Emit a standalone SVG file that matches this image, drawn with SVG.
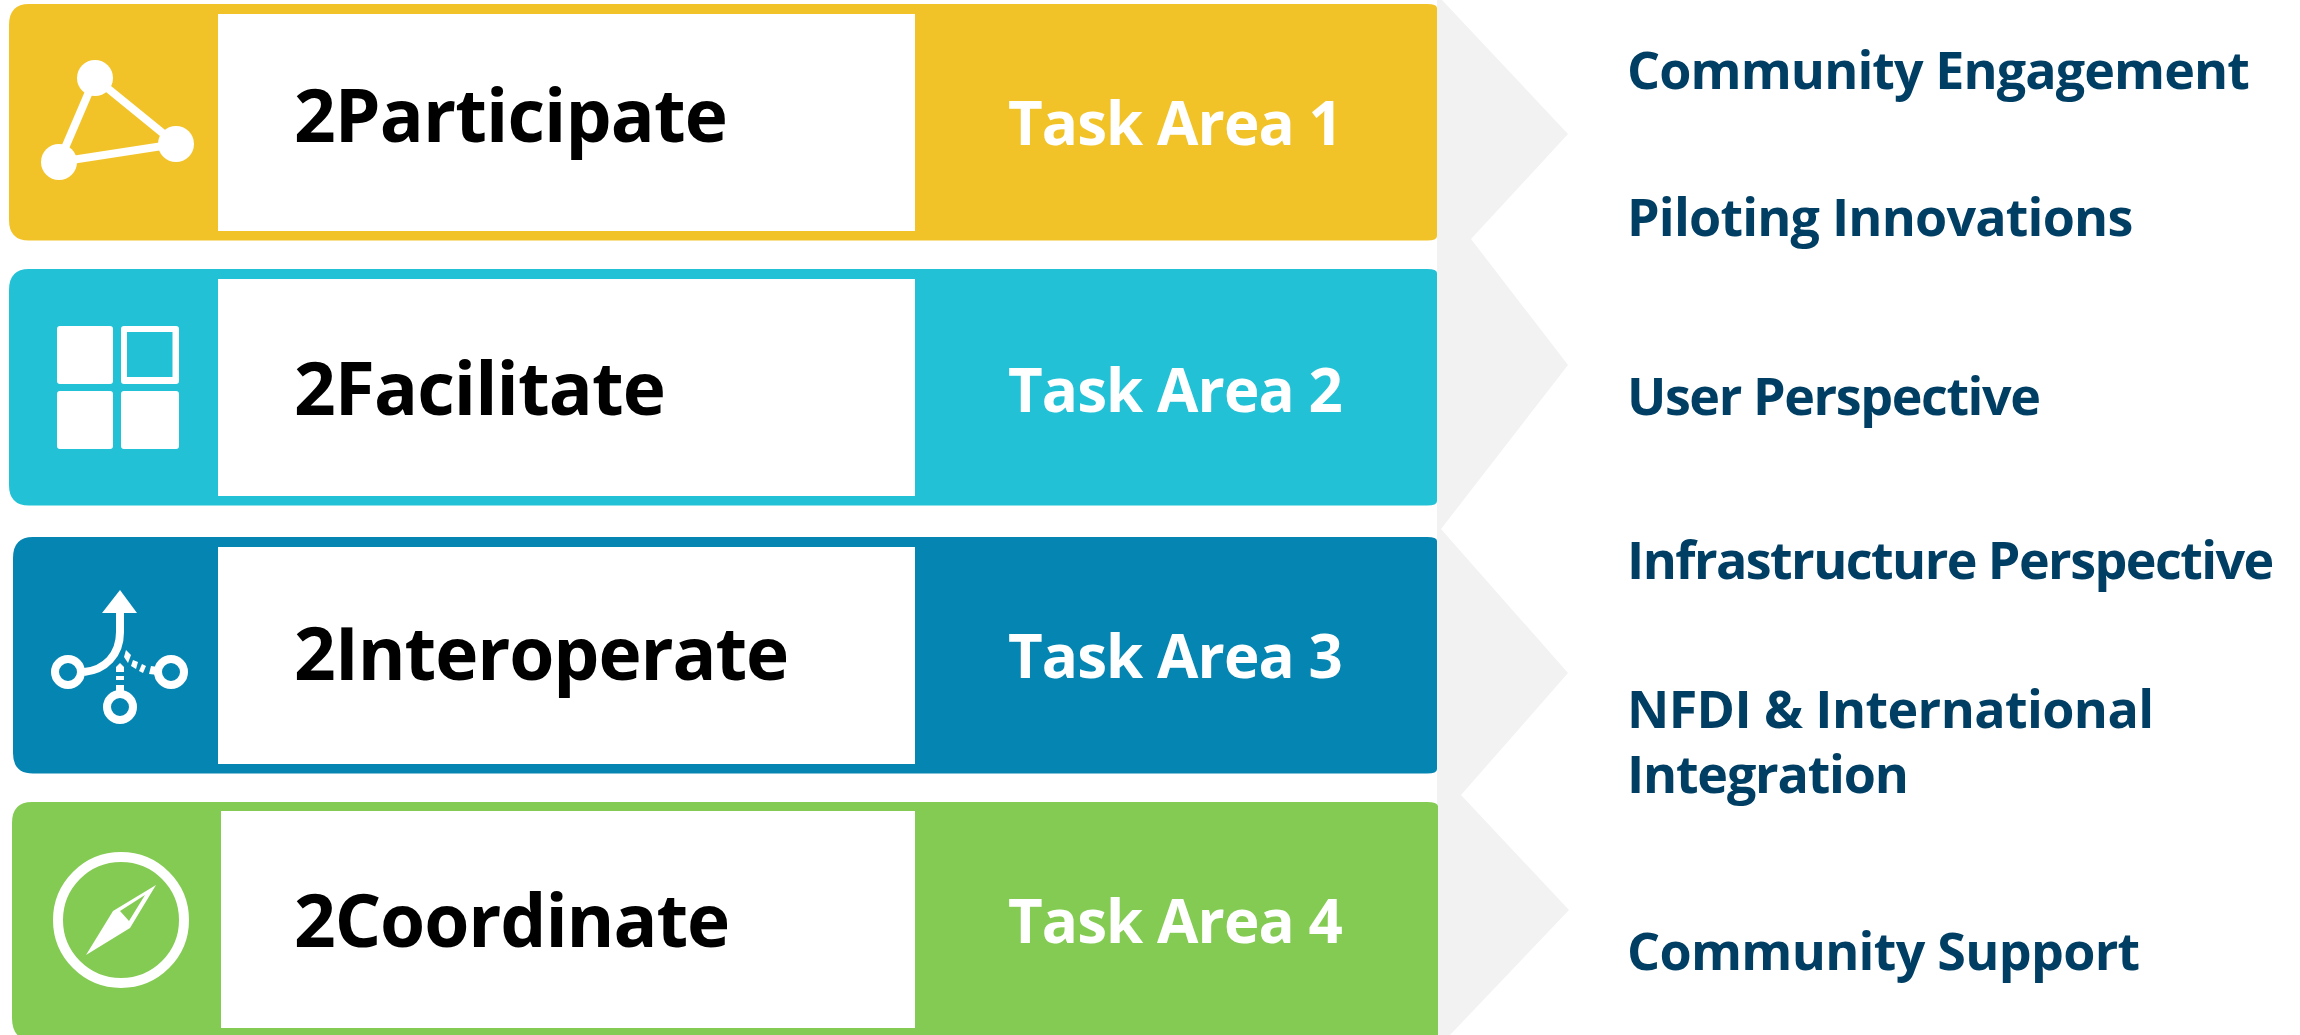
<svg xmlns="http://www.w3.org/2000/svg" width="2300" height="1035" viewBox="0 0 2300 1035">
<style>
text{font-family:"Open Sans","Noto Sans","DejaVu Sans",sans-serif;font-weight:700}
.title{font-size:73px;fill:#000;letter-spacing:-1px}
.task{font-size:60px;fill:#fff;letter-spacing:-0.900px}
.item{font-size:52px;fill:#003f63;letter-spacing:-0.900px}
.w{fill:#fff}
.ws{fill:none;stroke:#fff}
</style>
<rect width="2300" height="1035" fill="#fff"/>
<polygon id="chevrons" fill="#f2f2f2" points="1437,0 1442,0 1568,134 1471,239 1568,365 1441,529 1568,673 1461,795 1569,910 1450,1035 1437,1035"/>
<g id="task1">
<path fill="#f2c329" d="M29,4H1427Q1437,4 1437,8V236Q1437,240.500 1427,240.500H29Q9,240.500 9,220V25Q9,4 29,4Z"/>
<rect class="w" x="218" y="14" width="697" height="217"/>
<g>
<circle class="w" cx="95" cy="78" r="18"/><circle class="w" cx="176" cy="144" r="18"/><circle class="w" cx="59" cy="162" r="18"/>
<polygon class="ws" stroke-width="8" points="95,78 176,144 59,162"/>
</g>
<text class="title" x="294" y="142" style="letter-spacing:-0.900px">2Participate</text>
<text class="task" x="1008" y="145">Task Area 1</text>
</g>
<g id="task2">
<path fill="#22c1d6" d="M29,269H1427Q1437,269 1437,273V501Q1437,505.500 1427,505.500H29Q9,505.500 9,485V290Q9,269 29,269Z"/>
<rect class="w" x="218" y="279" width="697" height="217"/>
<rect class="w" x="57" y="326" width="56" height="58" rx="3"/>
<path class="w" fill-rule="evenodd" d="M124,326H176Q179,326 179,329V381Q179,384 176,384H124Q121,384 121,381V329Q121,326 124,326ZM127,332V377H172.500V332Z"/>
<rect class="w" x="57" y="391" width="56" height="58" rx="3"/>
<rect class="w" x="121" y="391" width="58" height="58" rx="3"/>
<text class="title" x="294" y="415" style="letter-spacing:-0.900px">2Facilitate</text>
<text class="task" x="1008" y="412">Task Area 2</text>
</g>
<g id="task3">
<path fill="#0485b2" d="M33,537H1427Q1437,537 1437,541V769Q1437,773.500 1427,773.500H33Q13,773.500 13,753V558Q13,537 33,537Z"/>
<rect class="w" x="218" y="547" width="697" height="217"/>
<g>
<polygon class="w" points="120,590 137,613 102,613"/>
<path class="ws" stroke-width="8" d="M120,610V632C120,655 105,670 84,672"/>
<circle class="ws" stroke-width="8" cx="68" cy="672" r="13"/>
<circle class="ws" stroke-width="8" cx="171" cy="672" r="13"/>
<circle class="ws" stroke-width="8" cx="120" cy="707" r="13"/>
<rect class="w" x="116" y="685" width="8" height="6"/>
<rect class="w" x="116" y="676" width="8" height="4"/>
<polygon class="w" points="120,663 124,667 124,672 116,672 116,667"/>
<polygon class="w" points="126,650 131,655 128,663 124,657"/>
<polygon class="w" points="133,660 138,662 136,669 131,666"/>
<polygon class="w" points="142,664 146,666 143,673 139,671"/>
<polygon class="w" points="151,666 158,667 158,675 149,674"/>
</g>
<text class="title" x="294" y="680" style="letter-spacing:-1.100px">2Interoperate</text>
<text class="task" x="1008" y="678">Task Area 3</text>
</g>
<g id="task4">
<path fill="#84cb53" d="M32,802H1427Q1437,802 1438,806V1040H32Q12,1040 12,1018V823Q12,802 32,802Z"/>
<rect class="w" x="221" y="811" width="694" height="217"/>
<g>
<circle class="ws" stroke-width="10" cx="121" cy="920" r="63"/>
<path class="w" fill-rule="evenodd" d="M156,885L130,928L86,955L113,911ZM145,895L120,911L129,921Z"/>
</g>
<text class="title" x="294" y="947" style="letter-spacing:-1.100px">2Coordinate</text>
<text class="task" x="1008" y="943">Task Area 4</text>
</g>
<g id="items">
<text class="item" x="1627" y="89">Community Engagement</text>
<text class="item" x="1627" y="236" style="letter-spacing:-0.800px">Piloting Innovations</text>
<text class="item" x="1627" y="415" style="letter-spacing:-1.400px">User Perspective</text>
<text class="item" x="1627" y="579" style="letter-spacing:-1.550px">Infrastructure Perspective</text>
<text class="item" x="1627" y="728" style="letter-spacing:-0.600px">NFDI &amp; International</text>
<text class="item" x="1627" y="793" style="letter-spacing:-1.200px">Integration</text>
<text class="item" x="1627" y="970" style="letter-spacing:-0.700px">Community Support</text>
</g>
</svg>
